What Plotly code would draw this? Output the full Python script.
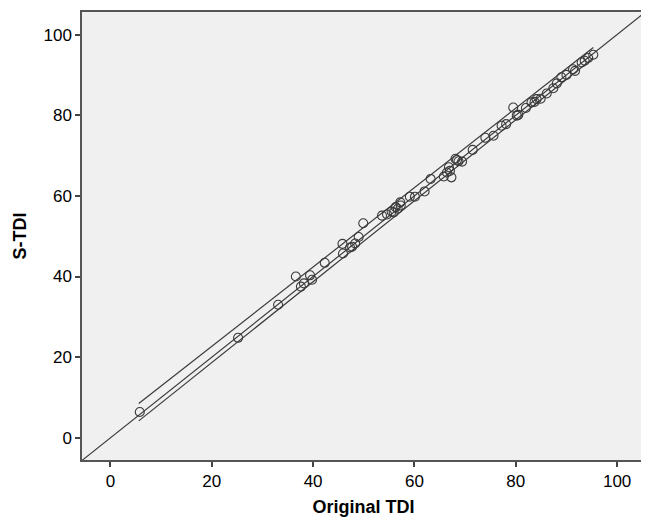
import plotly.graph_objects as go

# Data
original_tdi = [5.8, 25.2, 33.1, 36.6, 37.6, 38.2, 39.4, 39.8, 42.3, 45.8, 45.9, 47.3, 47.7,
                48.3, 49.0, 49.9, 53.6, 54.6, 55.5, 55.9, 56.3, 56.7, 57.2, 57.3, 59.1, 60.1,
                62.0, 63.2, 65.8, 66.4, 66.8, 67.0, 67.3, 68.1, 68.4, 68.7, 69.4, 71.5, 74.0,
                75.6, 77.2, 78.1, 79.5, 80.2, 80.5, 82.0, 83.1, 83.7, 84.1, 84.9, 86.1, 87.4,
                88.1, 89.0, 90.0, 91.3, 91.7, 93.0, 93.6, 94.3, 95.3]
s_tdi = [6.4, 24.8, 33.0, 40.0, 37.5, 38.3, 40.3, 39.2, 43.4, 48.1, 45.7, 47.2, 47.4,
         48.2, 49.8, 53.2, 55.1, 55.4, 56.1, 55.9, 57.2, 56.8, 58.4, 57.6, 59.8, 59.8,
         61.1, 64.2, 64.8, 65.8, 67.1, 66.2, 64.6, 69.2, 68.9, 68.6, 68.5, 71.4, 74.4,
         74.9, 77.4, 77.8, 81.9, 79.9, 80.1, 81.8, 83.2, 83.3, 84.0, 84.1, 85.4, 86.7,
         87.9, 89.4, 90.0, 91.4, 91.0, 93.1, 93.5, 94.2, 95.0]

# Reference line y = x
ref_x = [-10, 110]
ref_y = [-10, 110]

# Upper and lower bound lines
upper_x = [5.6, 95.3]
upper_y = [8.5, 96.8]
lower_x = [5.6, 95.3]
lower_y = [4.2, 94.2]

x_ticks = [0, 20, 40, 60, 80, 100]
y_ticks = [0, 20, 40, 60, 80, 100]

line_col = "#3a3a3a"
font_family = "Liberation Sans, Arial, sans-serif"

fig = go.Figure()
fig.add_trace(go.Scatter(x=ref_x, y=ref_y, mode="lines",
                         line=dict(color=line_col, width=1.2), showlegend=False, hoverinfo="skip"))
fig.add_trace(go.Scatter(x=upper_x, y=upper_y, mode="lines",
                         line=dict(color=line_col, width=1.2), showlegend=False, hoverinfo="skip"))
fig.add_trace(go.Scatter(x=lower_x, y=lower_y, mode="lines",
                         line=dict(color=line_col, width=1.2), showlegend=False, hoverinfo="skip"))
fig.add_trace(go.Scatter(x=original_tdi, y=s_tdi, mode="markers",
                         marker=dict(symbol="circle-open", size=9, color=line_col,
                                     line=dict(width=1.1, color=line_col)),
                         showlegend=False))

axis_common = dict(
    showgrid=False, zeroline=False,
    showline=True, mirror=True, linecolor="#555555", linewidth=1.5,
    ticks="outside", ticklen=5, tickwidth=1.5, tickcolor="#444444",
    tickfont=dict(family=font_family, size=17, color="#000000"),
)

# The page body has an 8px margin, so the figure is sized/offset to compensate.
fig.update_layout(
    width=641, height=510,
    margin=dict(l=74, r=2, t=3, b=58),
    paper_bgcolor="white", plot_bgcolor="#f0f0f0",
    xaxis=dict(range=[-5.6, 105.5], tickvals=x_ticks,
               title=dict(text="<b>Original TDI</b>", standoff=10,
                          font=dict(family=font_family, size=18, color="#000000")),
               **axis_common),
    yaxis=dict(range=[-5.5, 105.6], tickvals=y_ticks,
               title=dict(text="<b>S-TDI</b>", standoff=12,
                          font=dict(family=font_family, size=18, color="#000000")),
               **axis_common),
)

fig.write_html("out.html")
